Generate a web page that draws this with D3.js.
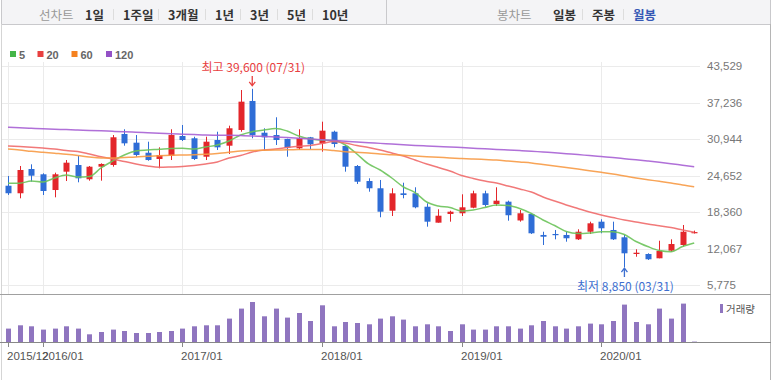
<!DOCTYPE html>
<html><head><meta charset="utf-8">
<script src="https://cdn.jsdelivr.net/npm/d3@7"></script>
<style>body{margin:0;background:#fff}svg{display:block}</style>
</head><body>
<svg id="c" width="777" height="380"></svg>
<script>
// ---------- DATA ----------
const months = ["2015/10","2015/11","2015/12",
 "2016/01","2016/02","2016/03","2016/04","2016/05","2016/06","2016/07","2016/08","2016/09","2016/10","2016/11","2016/12",
 "2017/01","2017/02","2017/03","2017/04","2017/05","2017/06","2017/07","2017/08","2017/09","2017/10","2017/11","2017/12",
 "2018/01","2018/02","2018/03","2018/04","2018/05","2018/06","2018/07","2018/08","2018/09","2018/10","2018/11","2018/12",
 "2019/01","2019/02","2019/03","2019/04","2019/05","2019/06","2019/07","2019/08","2019/09","2019/10","2019/11","2019/12",
 "2020/01","2020/02","2020/03","2020/04","2020/05","2020/06","2020/07","2020/08","2020/09"];
const open  = [22890,21590,25770,24860,22150,25310,26460,24000,26170,26460,31810,30310,28580,27500,28070,31460,31070,27890,30770,29790,32500,37500,32030,31630,30950,29340,31240,30200,32200,29740,26290,23700,22450,18580,21580,21580,19270,16520,18020,18140,19100,21580,19740,20140,16900,18020,14400,14570,14400,13650,14960,16690,15260,14000,11120,11120,10380,11690,12670,14850];
const high  = [24570,26290,26580,25030,25140,27320,28010,26290,26750,31630,32620,31630,30480,29510,32620,33360,31340,31340,32200,33240,39390,39600,32790,34690,31000,32620,31300,33930,32380,29910,26460,24170,23880,22450,23410,22620,19860,18830,18580,21410,22030,22030,22620,20310,18700,18140,14960,15260,14960,15380,16690,17100,16690,14400,11930,11240,13410,13650,16120,15150];
const low   = [21300,20720,23590,21290,20890,23700,23480,23760,23760,26170,29790,27890,27200,25890,27320,30600,27320,27320,29050,28360,32200,31070,28930,29910,27890,29050,29170,28760,29510,25310,23190,21860,17450,17670,20720,19000,15830,16520,16690,17670,19000,19270,19390,16860,16690,14570,12670,13650,13240,13530,14570,14690,13530,8850,10650,10090,10380,11470,12380,14650];
const close = [21590,25600,24620,21980,24860,26860,24170,26170,26640,31240,30200,28190,27320,28190,31630,30770,27500,30480,29510,32790,37380,31630,31240,30770,29450,31070,30030,32380,30080,26170,23580,22450,18410,21580,21290,19170,16690,17720,18410,19170,21580,19570,20310,17800,18140,14690,14100,14400,13830,14960,16410,15550,13650,11240,11340,10210,11640,12840,14960,14900];
const volume = [1340,1670,1570,1240,1340,1570,1340,770,1000,1240,1100,900,900,1000,1100,1340,1570,1670,1670,2340,3340,4000,2570,3340,2440,2900,2100,3670,1570,2000,1900,1770,2340,2570,2240,1570,1770,1570,1100,1770,1240,1240,1570,1570,1340,1670,2100,1570,1340,1570,1840,1770,2100,3740,2000,1770,3340,2340,3840,40];
const ma5   = [23310,23310,23700,23530,24220,24740,24390,24480,25950,27150,28190,28880,29050,29170,29310,29340,29220,29570,29910,30600,31630,32200,32500,32760,32320,31460,30950,30770,30690,29910,28360,26640,25600,24220,22670,21720,20080,19390,19140,18530,18710,19140,19570,19480,18960,18100,16980,16030,15000,14650,14740,14960,14960,14480,13280,12410,11720,11520,12410,13020];
const ma20  = [29740,29650,29530,29390,29220,28960,28790,28360,27890,27500,27070,26640,26290,26070,26120,26200,26380,26640,26980,27670,28100,28700,29050,29220,29480,29690,29820,30170,30510,30260,29820,29480,29050,28530,28010,27320,26640,26030,25430,24650,24140,23700,23360,22840,22330,21810,20950,20260,19570,18960,18360,17840,17410,16980,16640,16290,16000,15690,15260,14860];
const ma60  = [29220,29050,28820,28650,28480,28310,28100,27840,27670,27670,27760,27840,27960,28070,28150,28190,28220,28310,28450,28650,28880,28960,29010,29050,29080,29120,29150,29130,28960,28760,28650,28530,28360,28220,28140,28010,27890,27790,27670,27580,27500,27410,27320,27150,26980,26810,26550,26290,26030,25770,25480,25200,24910,24570,24220,23930,23650,23360,23020,22720];
const ma120 = [32960,32880,32790,32700,32630,32570,32500,32430,32360,32270,32190,32100,32010,31930,31840,31770,31700,31630,31600,31570,31530,31480,31390,31290,31190,31070,30950,30820,30690,30550,30430,30310,30190,30070,29950,29840,29740,29650,29570,29460,29360,29260,29150,29050,28950,28840,28700,28570,28410,28260,28080,27910,27740,27550,27360,27150,26930,26690,26430,26170];
const priceTicks = [5775,12067,18360,24652,30944,37236,43529];
const xTickMonths = ["2015/10","2016/01","2017/01","2018/01","2019/01","2020/01"];
const xTickLabels = ["2015/12","2016/01","2017/01","2018/01","2019/01","2020/01"];
const maNames = ["5","20","60","120"];
const periodTabs = ["1일","1주일","3개월","1년","3년","5년","10년"];
const candleTabs = ["일봉","주봉","월봉"];
const maxLabel = ["최고","07/31"];
const minLabel = ["최저","03/31"];
const volumeLabel = "거래량";

// ---------- STYLE ----------
const RED = "#e3262b", BLUE = "#2f6dd6", VOL = "#8f75bf";
const maColors = ["#6cc35a","#f06a6a","#f79a45","#a761d4"];
const legendColors = ["#44b548","#e8403f","#f58220","#9451c6"];
const FONT = "'Liberation Sans','Noto Sans CJK KR',sans-serif";
const KFONT = "'Noto Sans CJK KR','Liberation Sans',sans-serif";

const svg = d3.select("#c").style("font-family", FONT);
const x = d3.scalePoint().domain(months).range([8, 694.2]);
const y = d3.scaleLinear().domain([5775, 43529]).range([285, 66]);
const yv = d3.scaleLinear().domain([0, 4670]).range([342, 295.3]);

// ---------- TOP TABS ----------
svg.append("rect").attr("x",1.5).attr("y",-1).attr("width",769).attr("height",25.5)
  .attr("fill","#f4f4f6").attr("stroke","#c9c9cc");
svg.append("line").attr("x1",386.5).attr("x2",386.5).attr("y1",0).attr("y2",24.5).attr("stroke","#c9c9cc");
const tabG = svg.append("g").style("font-family", KFONT).style("font-size","12.5px");
tabG.append("text").attr("x",39).attr("y",20).attr("fill","#999").text("선차트");
const pX = [85,123,168,215,250,287,322];
periodTabs.forEach((t,i)=>{
  tabG.append("text").attr("x",pX[i]).attr("y",20).attr("fill","#333").attr("font-weight","bold").text(t);
  if(i>0) tabG.append("line").attr("x1",pX[i]-9.5).attr("x2",pX[i]-9.5).attr("y1",9).attr("y2",20).attr("stroke","#ddd");
});
tabG.append("text").attr("x",497).attr("y",20).attr("fill","#999").text("봉차트");
const cX = [553,592,633];
candleTabs.forEach((t,i)=>{
  tabG.append("text").attr("x",cX[i]).attr("y",20).attr("font-weight","bold")
    .attr("fill", i===2 ? "#3558b5" : "#333").text(t);
  if(i>0) tabG.append("line").attr("x1",cX[i]-9.5).attr("x2",cX[i]-9.5).attr("y1",9).attr("y2",20).attr("stroke","#ddd");
});

// ---------- FRAME ----------
svg.append("line").attr("x1",1.5).attr("x2",1.5).attr("y1",24).attr("y2",380).attr("stroke","#d5d5d5");
svg.append("line").attr("x1",770.5).attr("x2",770.5).attr("y1",24).attr("y2",380).attr("stroke","#b5b5b5");

// ---------- LEGEND ----------
const lg = svg.append("g").style("font-size","11px").style("font-weight","bold");
const lgX = [10,37.5,71.5,106];
maNames.forEach((n,i)=>{
  lg.append("rect").attr("x",lgX[i]).attr("y",51).attr("width",6).attr("height",6).attr("fill",legendColors[i]);
  lg.append("text").attr("x",lgX[i]+9).attr("y",58.5).attr("fill","#666").text(n);
});

// ---------- GRID ----------
const grid = svg.append("g");
grid.selectAll("line.h").data(priceTicks).join("line")
  .attr("x1",2).attr("x2",700).attr("y1",d=>Math.round(y(d))+0.5).attr("y2",d=>Math.round(y(d))+0.5)
  .attr("stroke","#ebebeb");
grid.selectAll("line.v").data(xTickMonths).join("line")
  .attr("x1",d=>Math.round(x(d))+0.5).attr("x2",d=>Math.round(x(d))+0.5).attr("y1",62).attr("y2",294)
  .attr("stroke","#ebebeb");
svg.append("g").selectAll("text").data(priceTicks).join("text")
  .attr("x",707).attr("y",d=>y(d)).attr("dy","0.35em")
  .style("font-size","11.5px").attr("fill","#777").text(d=>d3.format(",")(d));

// ---------- CANDLES ----------
const cg = svg.append("g");
months.forEach((m,i)=>{
  const up = close[i] >= open[i];
  const col = up ? RED : BLUE;
  const cx = Math.round(x(m)) + 0.5;
  cg.append("line").attr("x1",cx).attr("x2",cx).attr("y1",y(high[i])).attr("y2",y(low[i]))
    .attr("stroke",col).attr("stroke-width",1);
  const top = y(Math.max(open[i],close[i])), bot = y(Math.min(open[i],close[i]));
  cg.append("rect").attr("x",cx-3).attr("y",top).attr("width",6).attr("height",Math.max(1.2,bot-top)).attr("fill",col);
});

// ---------- MOVING AVERAGES ----------
const maData = [ma5, ma20, ma60, ma120];
const lineGen = d3.line().x((d,i)=>x(months[i])).y(d=>y(d)).curve(d3.curveMonotoneX);
maData.forEach((arr,k)=>{
  svg.append("path").attr("d",lineGen(arr)).attr("fill","none")
    .attr("stroke",maColors[k]).attr("stroke-width",1.5).attr("stroke-opacity",0.9);
});

// ---------- MAX / MIN ANNOTATIONS ----------
const iMax = d3.maxIndex(high), iMin = d3.minIndex(low);
const mxX = x(months[iMax]), mnX = x(months[iMin]);
const ann = svg.append("g").style("font-family",KFONT).style("font-size","12px");
ann.append("text").attr("x",mxX+1).attr("y",71.5).attr("text-anchor","middle").attr("fill","#e8403f")
  .text(`${maxLabel[0]} ${d3.format(",")(high[iMax])} (${maxLabel[1]})`);
ann.append("path").attr("d",`M${mxX},76 V${y(high[iMax])-3} M${mxX-3},${y(high[iMax])-7} L${mxX},${y(high[iMax])-3} L${mxX+3},${y(high[iMax])-7}`)
  .attr("stroke","#e8403f").attr("fill","none").attr("stroke-width",1.3);
ann.append("text").attr("x",mnX+1).attr("y",291).attr("text-anchor","middle").attr("fill","#3d6fd0")
  .text(`${minLabel[0]} ${d3.format(",")(low[iMin])} (${minLabel[1]})`);
ann.append("path").attr("d",`M${mnX},277 V${y(low[iMin])+1} M${mnX-3},${y(low[iMin])+5} L${mnX},${y(low[iMin])+1} L${mnX+3},${y(low[iMin])+5}`)
  .attr("stroke","#3d6fd0").attr("fill","none").attr("stroke-width",1.3);

// ---------- VOLUME ----------
svg.append("line").attr("x1",0).attr("x2",771).attr("y1",294.5).attr("y2",294.5).attr("stroke","#a0a0a0");
svg.append("g").selectAll("rect").data(volume).join("rect")
  .attr("x",(d,i)=>Math.round(x(months[i]))-2).attr("width",5)
  .attr("y",d=>yv(d)).attr("height",d=>yv(0)-yv(d)).attr("fill",VOL);
svg.append("line").attr("x1",0).attr("x2",771).attr("y1",342.5).attr("y2",342.5).attr("stroke","#888");
svg.append("rect").attr("x",720).attr("y",304).attr("width",3).attr("height",9).attr("fill",VOL);
svg.append("text").attr("x",726).attr("y",313).style("font-family",KFONT).style("font-size","10.5px")
  .attr("fill","#555").text(volumeLabel);

// ---------- X AXIS ----------
const xa = svg.append("g");
xTickMonths.forEach((m,i)=>{
  const tx = Math.round(x(m)) + 0.5;
  xa.append("line").attr("x1",tx).attr("x2",tx).attr("y1",342).attr("y2",347).attr("stroke","#888");
  xa.append("text").attr("x",tx-1.5).attr("y",360).style("font-size","11.5px").attr("fill","#555").text(xTickLabels[i]);
});
</script>
</body></html>
